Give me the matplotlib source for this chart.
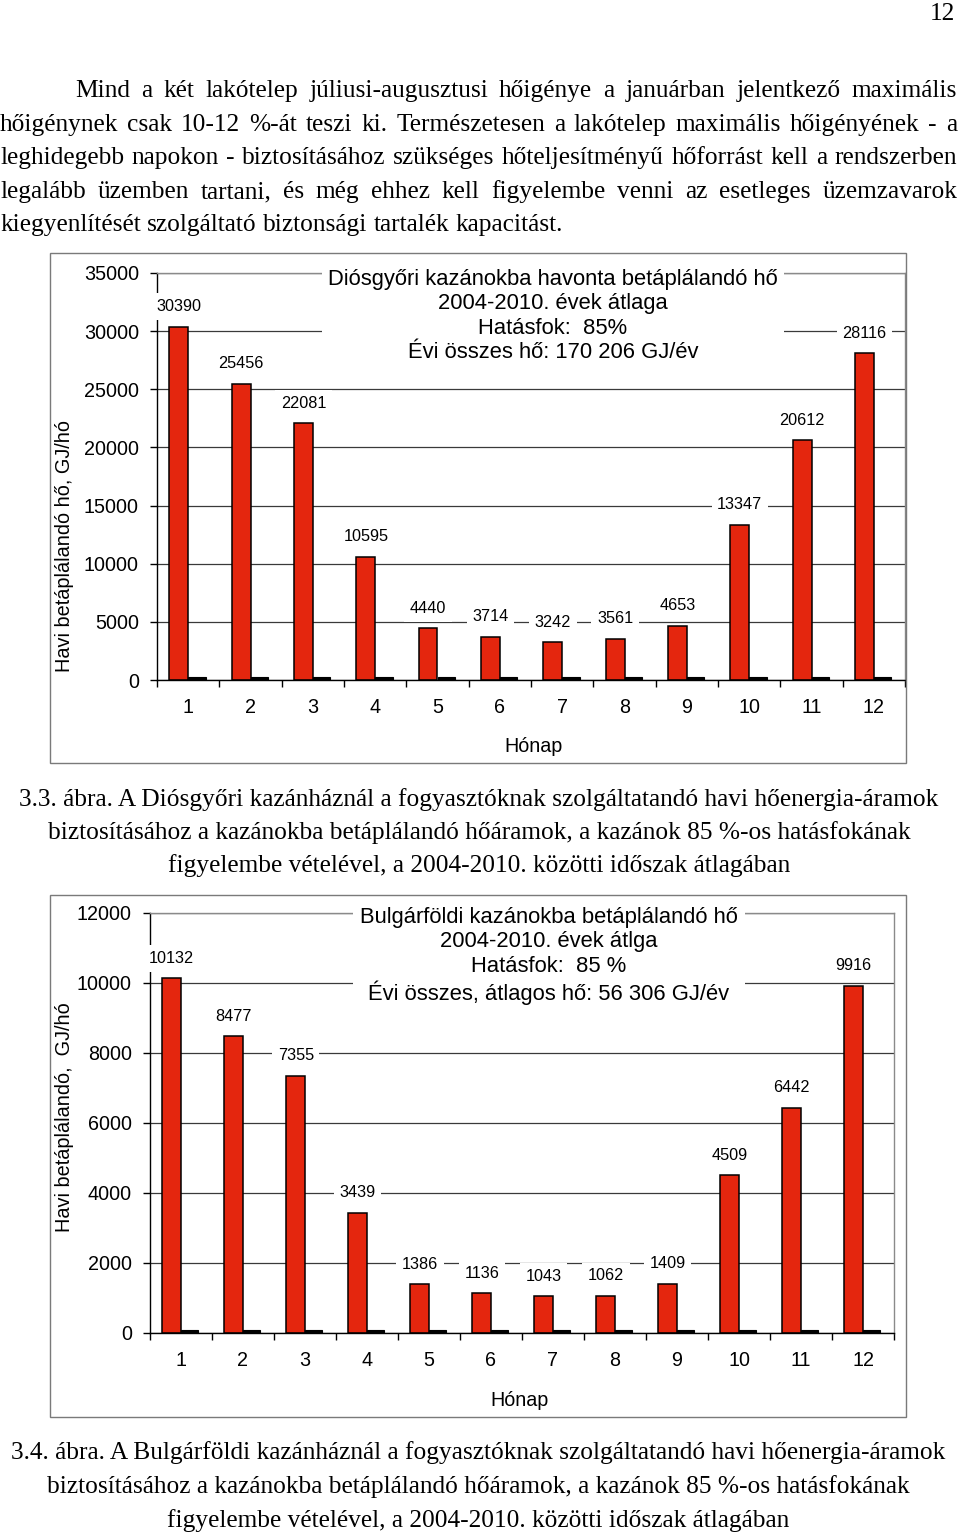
import matplotlib
matplotlib.use("Agg")
import matplotlib.pyplot as plt
from matplotlib.patches import Rectangle

W, H = 960, 1535

# data
months = [1, 2, 3, 4, 5, 6, 7, 8, 9, 10, 11, 12]
diosgyor_heat = [30390, 25456, 22081, 10595, 4440, 3714, 3242, 3561, 4653, 13347, 20612, 28116]
diosgyor_other = [250, 250, 250, 250, 250, 250, 250, 250, 250, 250, 250, 250]
bulgarfold_heat = [10132, 8477, 7355, 3439, 1386, 1136, 1043, 1062, 1409, 4509, 6442, 9916]
bulgarfold_other = [80, 80, 80, 80, 80, 80, 80, 80, 80, 80, 80, 80]

diosgyor_yticks = [0, 5000, 10000, 15000, 20000, 25000, 30000, 35000]
bulgarfold_yticks = [0, 2000, 4000, 6000, 8000, 10000, 12000]

paragraph = [
    "Mind a két lakótelep júliusi-augusztusi hőigénye a januárban jelentkező maximális",
    "hőigénynek csak 10-12 %-át teszi ki. Természetesen a lakótelep maximális hőigényének - a",
    "leghidegebb napokon - biztosításához szükséges hőteljesítményű hőforrást kell a rendszerben",
    "legalább üzemben tartani, és még ehhez kell figyelembe venni az esetleges üzemzavarok",
    "kiegyenlítését szolgáltató biztonsági tartalék kapacitást.",
]
caption1 = [
    "3.3. ábra. A Diósgyőri kazánháznál a fogyasztóknak szolgáltatandó havi hőenergia-áramok",
    "biztosításához a kazánokba betáplálandó hőáramok, a kazánok 85 %-os hatásfokának",
    "figyelembe vételével, a 2004-2010. közötti időszak átlagában",
]
caption2 = [
    "3.4. ábra. A Bulgárföldi kazánháznál a fogyasztóknak szolgáltatandó havi hőenergia-áramok",
    "biztosításához a kazánokba betáplálandó hőáramok, a kazánok 85 %-os hatásfokának",
    "figyelembe vételével, a 2004-2010. közötti időszak átlagában",
]
title1 = "Diósgyőri kazánokba havonta betáplálandó hő\n2004-2010. évek átlaga\nHatásfok:  85%\nÉvi összes hő: 170 206 GJ/év"
title2 = "Bulgárföldi kazánokba betáplálandó hő\n2004-2010. évek átlga\nHatásfok:  85 %\nÉvi összes, átlagos hő: 56 306 GJ/év"

SERIF = "Liberation Serif"
SANS = "Liberation Sans"
RED = "#e4260e"


def fx(x):
    return x / W


def fy(y):
    return 1 - y / H


fig = plt.figure(figsize=(W / 100, H / 100), dpi=100)
renderer = fig.canvas.get_renderer()

# fit the body font size to the width of the first caption line
probe = fig.text(0, 0, caption1[0], fontsize=16, family=SERIF)
body_size = 16 * 922 / probe.get_window_extent(renderer).width
probe.remove()


def justified(line, y, x0, x1, last=False):
    words = line.split()
    texts = [fig.text(0, fy(y), w, fontsize=body_size, family=SERIF, va="baseline") for w in words]
    widths = [t.get_window_extent(renderer).width for t in texts]
    if last:
        sp = fig.text(0, 0, "a a", fontsize=body_size, family=SERIF)
        sp2 = fig.text(0, 0, "aa", fontsize=body_size, family=SERIF)
        gap = sp.get_window_extent(renderer).width - sp2.get_window_extent(renderer).width
        sp.remove()
        sp2.remove()
    else:
        gap = (x1 - x0 - sum(widths)) / (len(words) - 1)
    x = x0
    for t, w in zip(texts, widths):
        t.set_x(fx(x))
        x += w + gap


fig.text(fx(955), fy(20), "12", fontsize=body_size, family=SERIF, ha="right", va="baseline")

baselines = [97, 131, 164, 198, 231]
for i, (line, b) in enumerate(zip(paragraph, baselines)):
    justified(line, b, 75 if i == 0 else 0, 957, last=(i == len(paragraph) - 1))

for line, b in zip(caption1, [806, 839, 872]):
    fig.text(fx(479), fy(b), line, fontsize=body_size, family=SERIF, ha="center", va="baseline")
for line, b in zip(caption2, [1459, 1493, 1527]):
    fig.text(fx(478), fy(b), line, fontsize=body_size, family=SERIF, ha="center", va="baseline")


def draw_chart(box, frame, heat, other, yticks, title, title_xy, ylabel, ylabel_xy, xlabel_xy):
    left, top, right, bottom = box
    ax = fig.add_axes([fx(left), fy(bottom), (right - left) / W, (bottom - top) / H])
    ax.set_axisbelow(True)
    ax.bar([m - 0.3 for m in months], heat, width=0.3, align="edge",
           color=RED, edgecolor="black", linewidth=1.1, zorder=2)
    ax.bar(months, other, width=0.28, align="edge",
           color="black", edgecolor="black", linewidth=0.8, zorder=2)

    ax.set_xlim(0.5, 12.5)
    ax.set_ylim(0, yticks[-1])
    ax.set_yticks(yticks)
    ax.set_yticklabels([str(v) for v in yticks], family=SANS, fontsize=14.2)
    ax.set_xticks(months)
    ax.set_xticklabels([str(m) for m in months], family=SANS, fontsize=14.2)
    ax.set_xticks([m + 0.5 for m in [0] + months], minor=True)
    ax.tick_params(axis="x", which="major", length=0, pad=13)
    ax.tick_params(axis="x", which="minor", length=5, width=1, direction="out")
    ax.tick_params(axis="y", length=5, width=1, direction="out", pad=8)
    ax.yaxis.grid(True, color="#3a3a3a", linewidth=0.9)
    for s in ["top", "right"]:
        ax.spines[s].set_color("#8a8a8a")
        ax.spines[s].set_linewidth(1.0)
    for s in ["left", "bottom"]:
        ax.spines[s].set_linewidth(1.0)

    for m, v in zip(months, heat):
        ax.annotate(str(v), (m - 0.15, v), xytext=(0, 20), textcoords="offset pixels",
                    ha="center", va="center", family=SANS, fontsize=11.7, zorder=5,
                    bbox=dict(boxstyle="square,pad=0.35", facecolor="white", edgecolor="none"),
                    annotation_clip=False)

    fig.text(fx(title_xy[0]), fy(title_xy[1]), title, ha="center", va="center",
             family=SANS, fontsize=15.8, linespacing=1.2, zorder=5,
             bbox=dict(boxstyle="square,pad=0.3", facecolor="white", edgecolor="none"))
    fig.text(fx(ylabel_xy[0]), fy(ylabel_xy[1]), ylabel, rotation=90, ha="center", va="center",
             family=SANS, fontsize=14.3)
    fig.text(fx(xlabel_xy[0]), fy(xlabel_xy[1]), "Hónap", ha="center", va="center",
             family=SANS, fontsize=14.2)

    fl, ft, fr, fb = frame
    fig.patches.append(Rectangle((fx(fl), fy(fb)), (fr - fl) / W, (fb - ft) / H,
                                 transform=fig.transFigure, fill=False,
                                 edgecolor="#7a7a7a", linewidth=1.0, zorder=1))
    return ax


draw_chart((157, 273, 905, 680), (50, 253, 906, 763), diosgyor_heat, diosgyor_other,
           diosgyor_yticks, title1, (553, 316), "Havi betáplálandó hő, GJ/hó", (65, 546), (534, 746))
draw_chart((150, 913, 894, 1333), (50, 895, 906, 1417), bulgarfold_heat, bulgarfold_other,
           bulgarfold_yticks, title2, (549, 956), "Havi betáplálandó,  GJ/hó", (65, 1117), (520, 1400))

fig.savefig("out.png", dpi=100)
